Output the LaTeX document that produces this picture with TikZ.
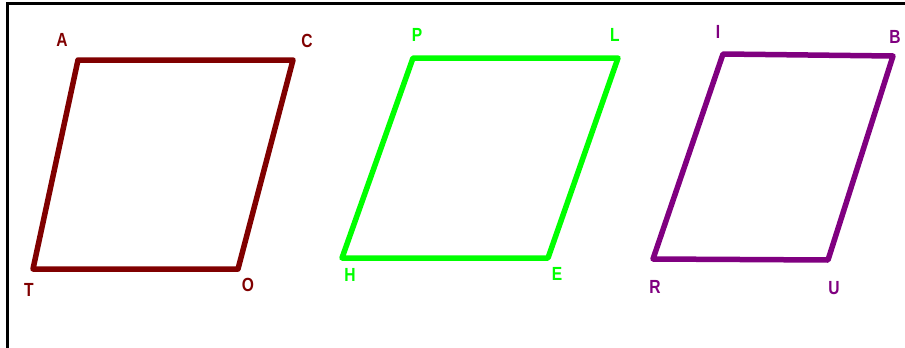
\documentclass[tikz,border=0pt]{standalone}
\usepackage{fontspec}
\setmainfont{Liberation Sans}
\usepackage{xcolor}
\usepackage{tikz}
\definecolor{maroonline}{RGB}{128,0,0}
\definecolor{limeline}{RGB}{0,255,0}
\definecolor{purpleline}{RGB}{128,0,128}
\newcommand{\narrowtext}[1]{\scalebox{0.82}[1]{#1}}

\begin{document}
\begin{tikzpicture}[x=1pt,y=-1pt,
  side/.style={line width=5.5pt,line join=round,line cap=round},
  vlabel/.style={font=\fontsize{19}{19}\selectfont\bfseries,inner sep=0pt}]
  \useasboundingbox (0,0) rectangle (905,348);
  % frame
  \draw[line width=2.5pt] (905,3.5) -- (7.5,3.5) -- (7.5,348);
  % first parallelogram
  \coordinate (A) at (78,60);
  \coordinate (C) at (293,60);
  \coordinate (O) at (238,269);
  \coordinate (T) at (33,269);
  \draw[maroonline,side] (A) -- (C) -- (O) -- (T) -- cycle;
  \node[vlabel,maroonline] (lA) at (62,40) {\narrowtext{A}};
  \node[vlabel,maroonline] (lC) at (307,41) {\narrowtext{C}};
  \node[vlabel,maroonline] (lO) at (248,285) {\narrowtext{O}};
  \node[vlabel,maroonline] (lT) at (29,290) {\narrowtext{T}};
  % second parallelogram
  \coordinate (P) at (413,58);
  \coordinate (L) at (618,58);
  \coordinate (E) at (548,258);
  \coordinate (H) at (342,258);
  \draw[limeline,side] (P) -- (L) -- (E) -- (H) -- cycle;
  \node[vlabel,limeline] (lP) at (417,35) {\narrowtext{P}};
  \node[vlabel,limeline] (lL) at (615,35) {\narrowtext{L}};
  \node[vlabel,limeline] (lE) at (557,274) {\narrowtext{E}};
  \node[vlabel,limeline] (lH) at (350,275) {\narrowtext{H}};
  % third parallelogram
  \coordinate (I) at (723,54);
  \coordinate (B) at (893,56);
  \coordinate (U) at (828,260);
  \coordinate (R) at (653,259);
  \draw[purpleline,side] (I) -- (B) -- (U) -- (R) -- cycle;
  \node[vlabel,purpleline] (lI) at (718,32) {\narrowtext{I}};
  \node[vlabel,purpleline] (lB) at (895,37) {\narrowtext{B}};
  \node[vlabel,purpleline] (lU) at (834,288) {\narrowtext{U}};
  \node[vlabel,purpleline] (lR) at (655,287) {\narrowtext{R}};
\end{tikzpicture}
\end{document}
